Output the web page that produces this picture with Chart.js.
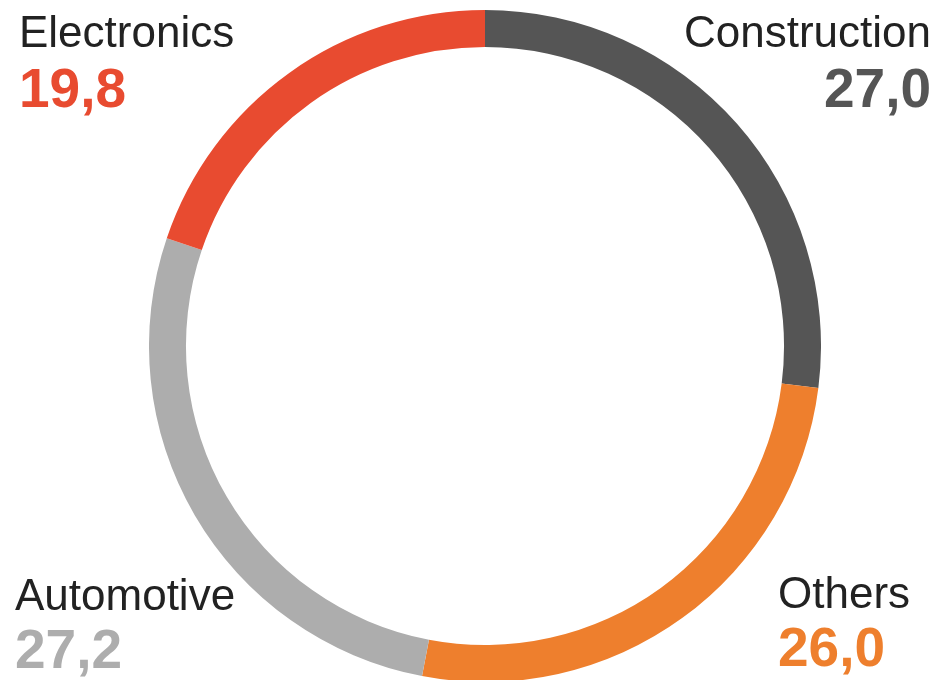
<!DOCTYPE html>
<html>
<head>
<meta charset="utf-8">
<script src="https://cdn.jsdelivr.net/npm/chart.js@4"></script>
<style>
  html, body { margin: 0; padding: 0; background: #fff; overflow: hidden; }
  #wrap { position: relative; width: 939px; height: 680px; overflow: hidden; }
  #ring { position: absolute; left: 149px; top: 10px; }
  .lbl { position: absolute; font-family: "Liberation Sans", Arial, sans-serif; white-space: nowrap; }
  .name { font-size: 44px; line-height: 44px; color: #222; }
  .val { font-size: 55px; line-height: 55px; font-weight: bold; }
</style>
</head>
<body>
<div id="wrap">
  <canvas id="ring" width="672" height="672"></canvas>
</div>
<script>
// Segment data, clockwise from 12 o'clock
const categories = ['Construction', 'Others', 'Automotive', 'Electronics'];
const shares = [27.0, 26.0, 27.2, 19.8];
const colors = ['#555555', '#EE7F2D', '#ADADAD', '#E84B30'];

// Where each label block sits (left/right edge, top of name, top of value)
const labelSpots = [
    { side: 'right', x: 931, nameTop: 10, valTop: 61 },
    { side: 'left',  x: 778, nameTop: 571, valTop: 620 },
    { side: 'left',  x: 15,  nameTop: 573, valTop: 622 },
    { side: 'left',  x: 19,  nameTop: 10, valTop: 61 }
];

const fmt = v => v.toFixed(1).replace('.', ',');

// Build the text labels
const wrap = document.getElementById('wrap');
categories.forEach((name, i) => {
    const spot = labelSpots[i];
    const mk = (cls, text, top, color) => {
        const d = document.createElement('div');
        d.className = 'lbl ' + cls;
        d.textContent = text;
        d.style.top = top + 'px';
        if (spot.side === 'right') {
            d.style.right = (939 - spot.x) + 'px';
            d.style.textAlign = 'right';
        } else {
            d.style.left = spot.x + 'px';
        }
        if (color) d.style.color = color;
        wrap.appendChild(d);
    };
    mk('name', name, spot.nameTop);
    mk('val', fmt(shares[i]), spot.valTop, colors[i]);
});

// Doughnut ring
new Chart(document.getElementById('ring'), {
    type: 'doughnut',
    data: {
        labels: categories,
        datasets: [{
            data: shares,
            backgroundColor: colors,
            borderWidth: 0
        }]
    },
    options: {
        responsive: false,
        animation: false,
        cutout: '89%',
        layout: { padding: 0 },
        plugins: {
            legend: { display: false },
            tooltip: { enabled: false }
        }
    }
});
</script>
</body>
</html>
